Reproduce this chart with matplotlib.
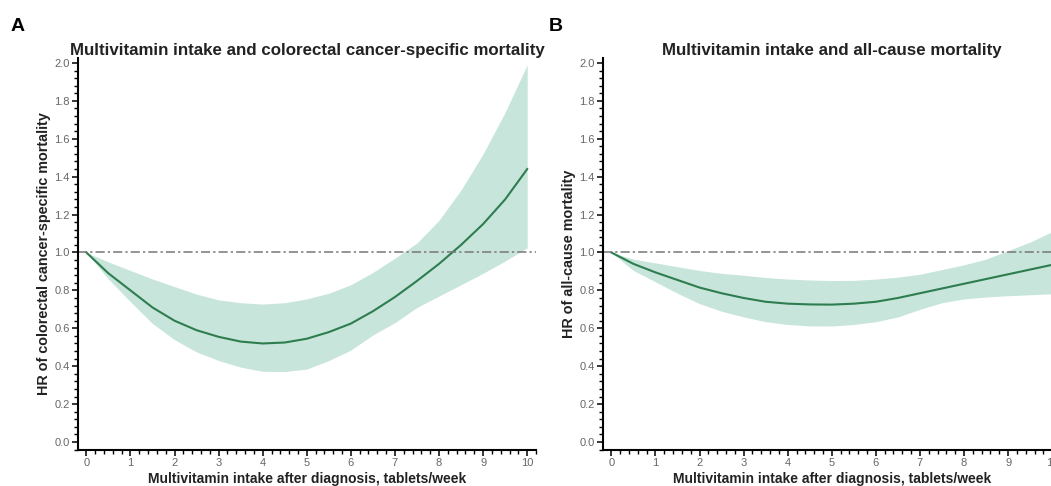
import numpy as np
import matplotlib
matplotlib.use('Agg')
import matplotlib.pyplot as plt
from matplotlib.ticker import MultipleLocator

plt.rcParams['font.family'] = ['Liberation Sans', 'DejaVu Sans']

# Values (tablets/week grid, step 0.5)
tablets = [0, 0.5, 1, 1.5, 2, 2.5, 3, 3.5, 4, 4.5, 5, 5.5, 6, 6.5, 7, 7.5, 8, 8.5, 9, 9.5, 10]

crc_hr = [1.0, 0.89, 0.80, 0.71, 0.64, 0.59, 0.555, 0.53, 0.52, 0.525, 0.545, 0.58,
          0.625, 0.69, 0.765, 0.85, 0.94, 1.04, 1.15, 1.28, 1.44]
crc_upper = [1.0, 0.95, 0.905, 0.86, 0.82, 0.78, 0.75, 0.735, 0.728, 0.735, 0.755, 0.785,
             0.83, 0.895, 0.97, 1.05, 1.17, 1.33, 1.52, 1.74, 1.99]
crc_lower = [1.0, 0.86, 0.74, 0.625, 0.54, 0.475, 0.43, 0.395, 0.373, 0.372, 0.385, 0.43,
             0.485, 0.565, 0.63, 0.71, 0.77, 0.83, 0.89, 0.955, 1.025]

all_hr = [1.0, 0.94, 0.895, 0.855, 0.815, 0.785, 0.76, 0.74, 0.73, 0.726, 0.725, 0.73,
          0.74, 0.76, 0.785, 0.81, 0.835, 0.86, 0.885, 0.91, 0.935]
all_upper = [1.0, 0.965, 0.945, 0.925, 0.905, 0.89, 0.88, 0.868, 0.86, 0.855, 0.852, 0.853,
             0.86, 0.87, 0.885, 0.91, 0.935, 0.965, 1.01, 1.055, 1.11]
all_lower = [1.0, 0.905, 0.845, 0.785, 0.73, 0.69, 0.66, 0.635, 0.62, 0.613, 0.612, 0.62,
             0.635, 0.66, 0.70, 0.735, 0.755, 0.765, 0.772, 0.777, 0.782]

panels = [
    ('A', 'Multivitamin intake and colorectal cancer-specific mortality',
     'HR of colorectal cancer-specific mortality', crc_hr, crc_lower, crc_upper),
    ('B', 'Multivitamin intake and all-cause mortality',
     'HR of all-cause mortality', all_hr, all_lower, all_upper),
]

line_col = '#2e7d4f'
fill_col = '#c8e5dc'

fig = plt.figure(figsize=(10.51, 4.86), dpi=100)
lefts = [78 / 1051, 603 / 1051]
letter_x = [11 / 1051, 549 / 1051]

for left, lx, (letter, title, ylabel, hr, lo, up) in zip(lefts, letter_x, panels):
    ax = fig.add_axes([left, 36 / 486, 458 / 1051, 392 / 486])
    ax.fill_between(tablets, lo, up, color=fill_col, lw=0)
    ax.plot(tablets, hr, color=line_col, lw=1.5)
    ax.axhline(1.0, color='#777777', lw=1.1, ls=(0, (6, 2, 1.5, 2)))
    ax.set_xlim(-0.19, 10.2)
    ax.set_ylim(-0.042, 2.026)
    ax.xaxis.set_major_locator(MultipleLocator(1))
    ax.xaxis.set_minor_locator(MultipleLocator(0.2))
    ax.yaxis.set_major_locator(MultipleLocator(0.2))
    ax.yaxis.set_minor_locator(MultipleLocator(0.04))
    ax.yaxis.set_major_formatter(plt.FormatStrFormatter('%.1f'))
    for s in ['top', 'right']:
        ax.spines[s].set_visible(False)
    for s in ['left', 'bottom']:
        ax.spines[s].set_linewidth(1.5)
    ax.tick_params(which='major', length=4, width=1.1, labelsize=8, labelcolor='#666666', pad=2)
    ax.tick_params(which='minor', length=2.6, width=1.0)
    ax.set_title(title, fontsize=12.2, fontweight='bold', color='#222222', pad=2.5)
    ax.set_xlabel('Multivitamin intake after diagnosis, tablets/week', fontsize=10,
                  fontweight='bold', color='#222222', labelpad=2.5)
    ax.set_ylabel(ylabel, fontsize=10.4, fontweight='bold', color='#222222', labelpad=2)
    fig.text(lx, 0.945, letter, fontsize=14, fontweight='bold', ha='left', va='center')

fig.savefig('out.png', dpi=100)
